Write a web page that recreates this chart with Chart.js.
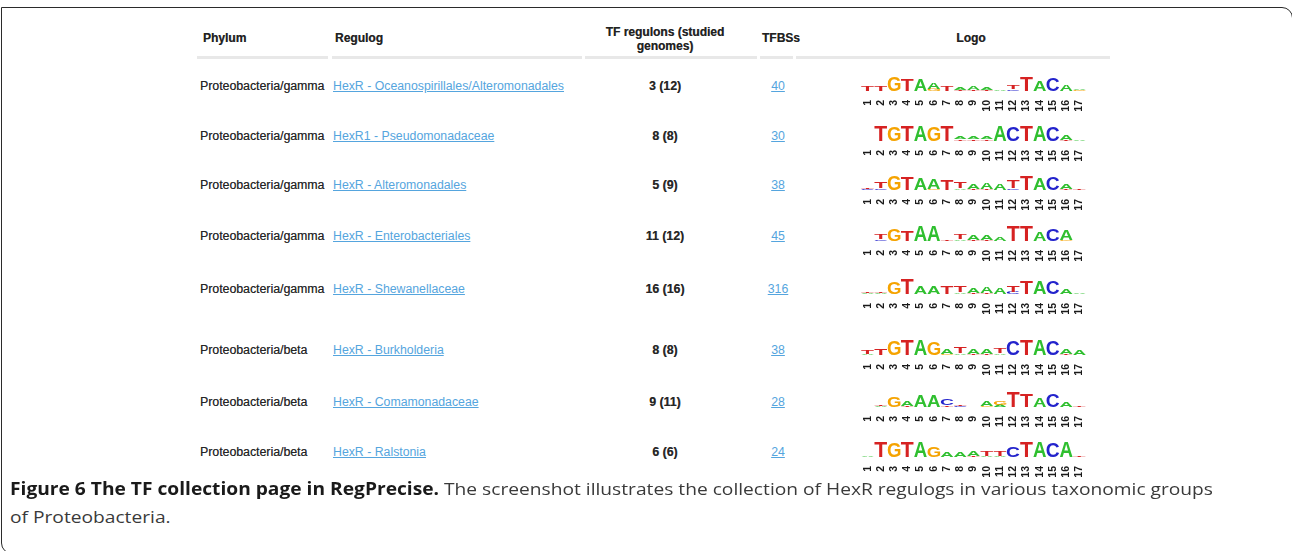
<!DOCTYPE html>
<html>
<head>
<meta charset="utf-8">
<script src="https://cdn.jsdelivr.net/npm/chart.js@4.4.1/dist/chart.umd.min.js"></script>
<style>
  html, body { margin: 0; padding: 0; background: #fff; }
  #page { position: relative; width: 1292px; height: 551px; overflow: hidden; background: #fff; }
  #frame {
    position: absolute; left: 1px; top: 7px; width: 1290px; height: 545px;
    border: 1.5px solid #2b2b2b; border-top-right-radius: 11px; border-bottom-left-radius: 11px;
  }
  .t { position: absolute; font-family: "Liberation Sans", Arial, sans-serif; font-size: 12.3px; color: #262626; white-space: nowrap; line-height: 14px; text-shadow: 0.3px 0 0 rgba(40,40,40,0.6); }
  .h { font-weight: bold; font-size: 12px; color: #222; }
  .c { transform: translateX(-50%); text-align: center; }
  .b { font-weight: bold; }
  .lnk { color: #55a5de; text-decoration: underline; text-shadow: none; }
  .hline { position: absolute; height: 3px; background: #e8e8e8; }
  .logo { position: absolute; }
  .cap { position: absolute; left: 10px; font-family: "Open Sans", sans-serif; font-size: 17px; color: #3a3a3a; white-space: nowrap; transform-origin: 0 0; line-height: 20px; }
  .cap b { color: #1a1a1a; }
</style>
</head>
<body>
<div id="page">
  <div id="frame"></div>
  <div id="table"></div>
</div>
<script>
const phyla = ["Proteobacteria/gamma", "Proteobacteria/gamma", "Proteobacteria/gamma", "Proteobacteria/gamma",
  "Proteobacteria/gamma", "Proteobacteria/beta", "Proteobacteria/beta", "Proteobacteria/beta"];
const regulogs = ["HexR - Oceanospirillales/Alteromonadales", "HexR1 - Pseudomonadaceae", "HexR - Alteromonadales",
  "HexR - Enterobacteriales", "HexR - Shewanellaceae", "HexR - Burkholderia", "HexR - Comamonadaceae", "HexR - Ralstonia"];
const regulons = [3, 8, 5, 11, 16, 8, 9, 6];
const genomes = [12, 8, 9, 12, 16, 8, 11, 6];
const tfbss = [40, 30, 38, 45, 316, 38, 28, 24];
const positions = ["1","2","3","4","5","6","7","8","9","10","11","12","13","14","15","16","17"];

// logo columns: top letter + height, lower letter + height ("-" = none)
const logo1Top = "TTGTAATAAAATTACAA";
const logo1TopH = [.35,.35,1,.8,.75,.4,.35,.2,.25,.2,.1,.25,.95,.65,.85,.4,.08];
const logo1Low = "-----G-TTT-C----G";
const logo1LowH = [0,0,0,0,0,.15,0,.1,.1,.08,0,.12,0,0,0,0,.05];

const logo2Top = "ATGTAGTAAAACTACAA";
const logo2TopH = [.03,1,1,1,1,1,1,.2,.2,.2,1,1,1,1,1,.35,.05];
const logo2Low = "-------TTT-----T-";
const logo2LowH = [0,0,0,0,0,0,0,.12,.12,.12,0,0,0,0,0,.05,0];

const logo3Top = "TTGTAATTAAATTACAT";
const logo3TopH = [.06,.4,1,.85,.8,.65,.7,.45,.35,.4,.45,.55,.95,.8,.85,.3,.08];
const logo3Low = "CC---G-ATT-C---T-";
const logo3LowH = [.05,.12,0,0,0,.1,0,.12,.1,.08,0,.12,0,0,0,.08,0];

const logo4Top = "ATGTAATTAAATTACAA";
const logo4TopH = [0,.35,.8,.7,1,1,.05,.35,.3,.3,.22,1,1,.6,.8,.7,0];
const logo4Low = "-C-----ATT-----G-";
const logo4LowH = [0,.12,0,0,0,0,0,.12,.1,.1,0,0,0,0,0,.05,0];

const logo5Top = "TTGTAATTAAATTACAA";
const logo5TopH = [.08,.12,.8,1,.5,.5,.55,.45,.35,.4,.45,.4,.9,.85,.9,.35,.05];
const logo5Low = "AA-----ATT-C-----";
const logo5LowH = [.04,.04,0,0,0,0,0,.12,.1,.1,0,.15,0,0,0,0,0];

const logo6Top = "TTGTAGATAATCTACAA";
const logo6TopH = [.25,.4,1,1,1,.9,.3,.4,.35,.35,.35,1,1,1,.95,.3,.35];
const logo6Low = "A-----GATTA----T-";
const logo6LowH = [.1,0,0,0,0,0,.08,.12,.08,.08,.12,0,0,0,0,.08,0];

const logo7Top = "ATGAAACTAAGTTACAT";
const logo7TopH = [0,.12,.65,.3,.75,.75,.45,.1,0,.3,.25,1,.9,.6,.85,.35,.05];
const logo7Low = "-A-T--TC-GA------";
const logo7LowH = [0,.06,0,.1,0,0,.1,.06,0,.08,.15,0,0,0,0,0,0];

const logo8Top = "ATGTAGAAATTCTACAT";
const logo8TopH = [.05,1,1,1,1,.7,.3,.3,.35,.3,.3,.7,1,1,1,1,.05];
const logo8Low = "--------TAA------";
const logo8LowH = [0,0,0,0,0,0,0,0,.08,.1,.1,0,0,0,0,0,0];

const logos = [
  [logo1Top, logo1TopH, logo1Low, logo1LowH], [logo2Top, logo2TopH, logo2Low, logo2LowH],
  [logo3Top, logo3TopH, logo3Low, logo3LowH], [logo4Top, logo4TopH, logo4Low, logo4LowH],
  [logo5Top, logo5TopH, logo5Low, logo5LowH], [logo6Top, logo6TopH, logo6Low, logo6LowH],
  [logo7Top, logo7TopH, logo7Low, logo7LowH], [logo8Top, logo8TopH, logo8Low, logo8LowH],
];

const rowY = [86, 136, 185, 236, 289, 350, 402, 452];
const letterColors = { A: "#2fbf2f", C: "#2323cc", G: "#f5a300", T: "#d62222" };

const table = document.getElementById("table");
function addText(html, x, y, cls) {
  const d = document.createElement("div");
  d.className = "t " + (cls || "");
  d.innerHTML = html;
  d.style.left = x + "px";
  d.style.top = (y - 7) + "px";
  table.appendChild(d);
  return d;
}

// header
addText("Phylum", 203, 38, "h");
addText("Regulog", 335, 38, "h");
addText("TF regulons (studied", 665, 32, "h c");
addText("genomes)", 665, 46, "h c");
addText("TFBSs", 781, 38, "h c");
addText("Logo", 971, 38, "h c");
[[197, 328], [332, 582], [585, 757], [760, 793], [796, 1110]].forEach(([a, b]) => {
  const l = document.createElement("div");
  l.className = "hline";
  l.style.left = a + "px"; l.style.width = (b - a) + "px"; l.style.top = "56px";
  table.appendChild(l);
});

// draw a letter stretched to fill a bar rectangle
function drawGlyph(ctx, ch, x, y, w, h, color) {
  if (h < 0.6 || w <= 0) return;
  ctx.save();
  ctx.font = 'bold 100px "Liberation Sans", Arial, sans-serif';
  const m = ctx.measureText(ch);
  const gw = m.actualBoundingBoxLeft + m.actualBoundingBoxRight;
  const gh = m.actualBoundingBoxAscent + m.actualBoundingBoxDescent;
  ctx.translate(x, y);
  ctx.scale(w / gw, h / gh);
  ctx.fillStyle = color;
  ctx.fillText(ch, m.actualBoundingBoxLeft, m.actualBoundingBoxAscent);
  ctx.restore();
}

const letterPlugin = {
  id: "letters",
  afterDatasetsDraw(chart) {
    const ctx = chart.ctx;
    chart.data.datasets.forEach((ds, di) => {
      chart.getDatasetMeta(di).data.forEach((el, i) => {
        const ch = ds.letters[i];
        if (ch === "-") return;
        const top = Math.min(el.y, el.base), bot = Math.max(el.y, el.base);
        const w = el.width * 0.96;
        drawGlyph(ctx, ch, el.x - w / 2, top, w, bot - top, letterColors[ch]);
      });
    });
  }
};

logos.forEach(([top, topH, low, lowH], r) => {
  const y = rowY[r];
  addText(phyla[r], 200, y);
  addText('<span class="lnk">' + regulogs[r] + "</span>", 333, y);
  addText(regulons[r] + " (" + genomes[r] + ")", 665, y, "b c");
  addText('<span class="lnk">' + tfbss[r] + "</span>", 778, y, "c");

  const cv = document.createElement("canvas");
  cv.className = "logo";
  cv.width = 232; cv.height = 40;
  cv.style.left = "861px"; cv.style.top = (y - 12) + "px";
  table.appendChild(cv);
  new Chart(cv.getContext("2d"), {
    type: "bar",
    data: {
      labels: positions,
      datasets: [
        { data: lowH, letters: low, backgroundColor: "rgba(0,0,0,0)", barPercentage: 1, categoryPercentage: 1 },
        { data: topH, letters: top, backgroundColor: "rgba(0,0,0,0)", barPercentage: 1, categoryPercentage: 1 },
      ]
    },
    options: {
      responsive: false, animation: false, events: [],
      layout: { padding: { top: 2, left: 0, right: 0, bottom: 0 } },
      plugins: { legend: { display: false }, tooltip: { enabled: false } },
      scales: {
        x: {
          stacked: true, grid: { display: false }, border: { display: false },
          ticks: { color: "#1a1a1a", font: { size: 10.5, weight: "bold", family: "Liberation Sans" }, minRotation: 90, maxRotation: 90, padding: 1, autoSkip: false },
          afterFit: (s) => { s.height = 23; }
        },
        y: { stacked: true, display: false, min: 0, max: 1 }
      }
    },
    plugins: [letterPlugin]
  });
});

// caption
const page = document.getElementById("page");
const cap1 = document.createElement("div");
cap1.className = "cap";
cap1.style.top = "479px";
cap1.innerHTML = "<b>Figure 6 The TF collection page in RegPrecise.</b> The screenshot illustrates the collection of HexR regulogs in various taxonomic groups";
page.appendChild(cap1);
const cap2 = document.createElement("div");
cap2.className = "cap";
cap2.style.top = "507px";
cap2.textContent = "of Proteobacteria.";
page.appendChild(cap2);
const sx = 1203 / cap1.getBoundingClientRect().width;
cap1.style.transform = "scaleX(" + sx + ")";
cap2.style.transform = "scaleX(" + sx + ")";
</script>
</body>
</html>
